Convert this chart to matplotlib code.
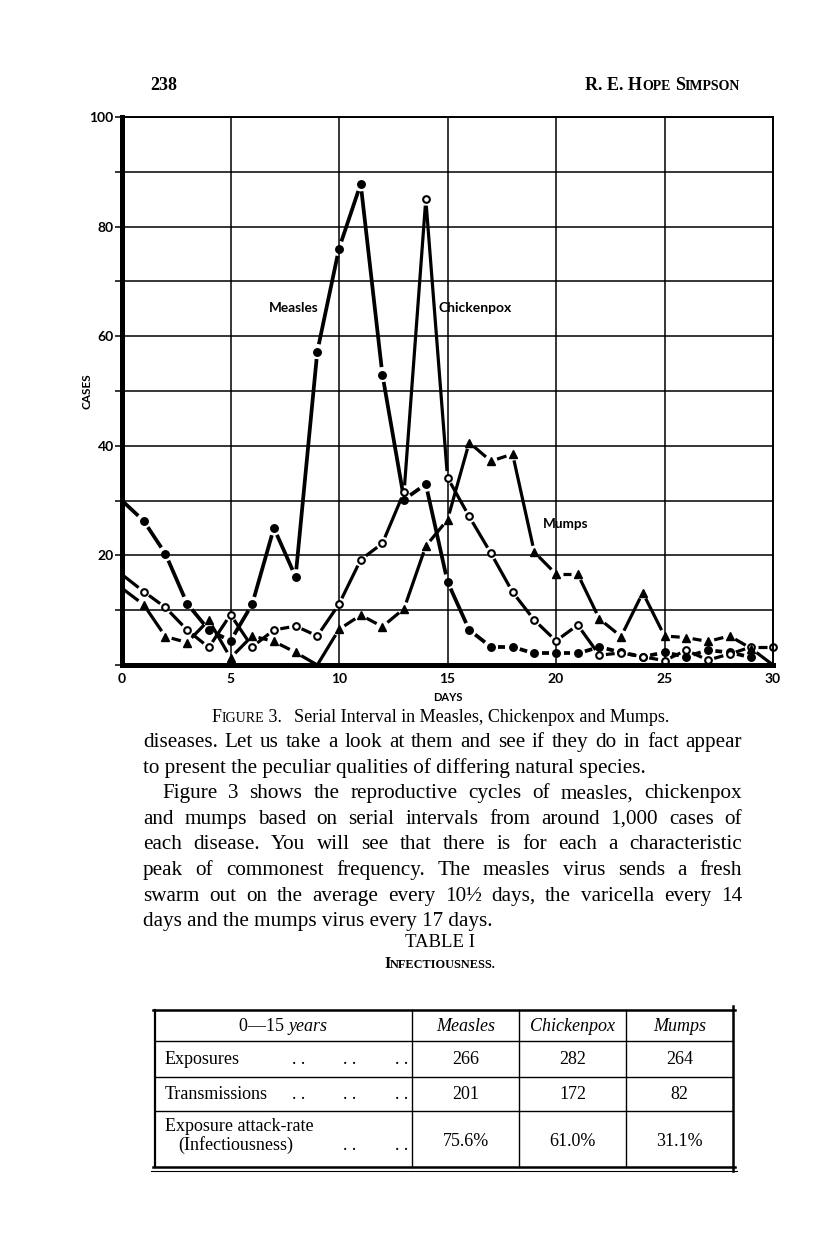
import numpy as np
import matplotlib
matplotlib.use("Agg")
from matplotlib import pyplot as plt

"""Page 238: Figure 3 (serial interval in measles, chickenpox and mumps),
the paragraph below it and Table I (infectiousness)."""

# ---- figure data (cases per day of serial interval) ----
days = list(range(31))
measles = [30, 26.3, 20.3, 11.2, 6.4, 4.4, 11.1, 25.0, 16.1, 57.2, 76.0, 87.8, 53.0, 30.2, 33.0,
           15.2, 6.4, 3.3, 3.3, 2.1, 2.1, 2.1, 3.3, 2.3, 1.5, 2.3, 1.5, 2.7, 2.3, 1.4]
chickenpox = [16.5, 13.4, 10.5, 6.4, 3.2, 9.2, 3.3, 6.4, 7.1, 5.3, 11.1, 19.2, 22.2, 31.6, 85.0,
              34.2, 27.1, 20.4, 13.3, 8.2, 4.4, 7.3, 1.8, 2.2, 1.5, 0.8, 2.7, 0.9, 2.0, 3.3, 3.3]
mumps = [14.0, 11.0, 5.2, 4.1, 8.2, 1.3, 5.3, 4.3, 2.3, 0.0, 6.5, 9.1, 7.0, 10.3, 21.7,
         26.5, 40.6, 37.2, 38.5, 20.6, 16.6, 16.6, 8.4, 5.2, 13.2, 5.3, 5.0, 4.3, 5.3, 3.0, 0.0]

x_ticks = [0, 5, 10, 15, 20, 25, 30]
y_grid = list(range(0, 101, 10))
y_labels = ['', '', '20', '', '40', '', '60', '', '80', '', '100']

# ---- table I ----
table_cols = ["Measles", "Chickenpox", "Mumps"]
exposures = [266, 282, 264]
transmissions = [201, 172, 82]
attack_rate = [75.6, 61.0, 31.1]

body = [
    "diseases. Let us take a look at them and see if they do in fact appear",
    "to present the peculiar qualities of differing natural species.",
    "Figure 3 shows the reproductive cycles of measles, chickenpox",
    "and mumps based on serial intervals from around 1,000 cases of",
    "each disease. You will see that there is for each a characteristic",
    "peak of commonest frequency. The measles virus sends a fresh",
    "swarm out on the average every 10\u00bd days, the varicella every 14",
    "days and the mumps virus every 17 days.",
]
justified = [True, False, True, True, True, True, True, False]

SERIF = "Liberation Serif"
SANS = "Lato"

fig = plt.figure(figsize=(8.16, 12.34), dpi=100)
W, H = 816, 1234

# page axes in pixel units for the printed text and table
pg = fig.add_axes([0, 0, 1, 1])
pg.set_xlim(0, W)
pg.set_ylim(H, 0)
pg.axis('off')
pg.patch.set_visible(False)

ax = fig.add_axes([122 / W, (H - 665) / H, (773 - 122) / W, (665 - 117) / H])
ax.set_xlim(0, 30)
ax.set_ylim(0, 100)
ax.set_xticks(x_ticks)
ax.set_yticks(y_grid)
ax.set_yticklabels(y_labels)
ax.grid(True, color='black', lw=1.1)
ax.set_axisbelow(True)
for s, lw in [('left', 3.6), ('bottom', 3.6), ('top', 1.4), ('right', 1.4)]:
    ax.spines[s].set_linewidth(lw)
ax.tick_params(axis='y', direction='out', length=5, width=1.1, pad=1)
ax.tick_params(axis='x', length=0, pad=6)
for lab in ax.get_xticklabels() + ax.get_yticklabels():
    lab.set_family(SANS)
    lab.set_weight('bold')
    lab.set_fontsize(10)
ax.set_xlabel("DAYS", family=SANS, weight='bold', fontsize=8, labelpad=5)
ax.set_ylabel("CASES", family=SANS, weight='bold', fontsize=8.5, labelpad=-2)


def gapped(x, y, gap, lw):
    # segments from point to point, stopping short of each marker
    pts = ax.transData.transform(np.column_stack([x, y]))
    inv = ax.transData.inverted()
    mark = [d > 0 and v > 0 for d, v in zip(x, y)]
    for i in range(len(pts) - 1):
        p0, p1 = pts[i], pts[i + 1]
        d = p1 - p0
        L = np.hypot(d[0], d[1])
        g0 = gap if mark[i] else 0
        g1 = gap if mark[i + 1] else 0
        if L <= g0 + g1 + 1:
            continue
        u = d / L
        a = inv.transform(p0 + u * g0)
        b = inv.transform(p1 - u * g1)
        ax.plot([a[0], b[0]], [a[1], b[1]], color='black', lw=lw,
                solid_capstyle='butt', clip_on=False)
    return mark


m = gapped(days[:len(measles)], measles, 7.5, 2.7)
xm = [d for d, k in zip(days, m) if k]
ym = [v for v, k in zip(measles, m) if k]
ax.plot(xm, ym, 'o', color='black', ms=5.4, clip_on=False)

m = gapped(days, chickenpox, 6.5, 2.3)
xm = [d for d, k in zip(days, m) if k]
ym = [v for v, k in zip(chickenpox, m) if k]
ax.plot(xm, ym, 'o', mfc='white', mec='black', mew=1.5, ms=4.8, clip_on=False)

m = gapped(days, mumps, 6.5, 2.3)
xm = [d for d, k in zip(days, m) if k]
ym = [v for v, k in zip(mumps, m) if k]
ax.plot(xm, ym, '^', color='black', ms=6, clip_on=False)

ax.text(9.05, 65.2, "Measles", ha='right', va='center', family=SANS, weight='bold', fontsize=9.8)
ax.text(14.6, 65.2, "Chickenpox", ha='left', va='center', family=SANS, weight='bold', fontsize=10)
ax.text(19.4, 25.7, "Mumps", ha='left', va='center', family=SANS, weight='bold', fontsize=9.8)

r = fig.canvas.get_renderer()


def runs(x, y, parts, ha='left', **kw):
    # parts: (text, size, gap after, extra props); small caps are built this way
    objs = [pg.text(0, y, s, fontsize=size, va='baseline', ha='left', family=SERIF, **kw, **ex)
            for s, size, g, ex in parts]
    ws = [o.get_window_extent(r).width for o in objs]
    total = sum(ws) + sum(p[2] for p in parts)
    x0 = x - total / 2 if ha == 'center' else (x - total if ha == 'right' else x)
    for o, w, p in zip(objs, ws, parts):
        o.set_x(x0)
        x0 += w + p[2]


def justify(y, line, x0, x1, size):
    words = line.split(' ')
    objs = [pg.text(0, y, w, fontsize=size, va='baseline', family=SERIF) for w in words]
    ws = [o.get_window_extent(r).width for o in objs]
    gap = (x1 - x0 - sum(ws)) / (len(words) - 1)
    x = x0
    for o, w in zip(objs, ws):
        o.set_x(x)
        x += w + gap


# running head
pg.text(150, 90, "238", fontsize=13, weight='bold', family=SERIF, va='baseline')
runs(740, 90, [("R. E. H", 13, 0, {}), ("OPE", 10, 4, {}), ("S", 13, 0, {}), ("IMPSON", 10, 0, {})],
     ha='right', weight='bold')

# caption
runs(440, 722, [("F", 13, 0, {}), ("IGURE", 10, 0, {}), (" 3.", 13, 12, {}),
                ("Serial Interval in Measles, Chickenpox and Mumps.", 13, 0, {})], ha='center')

# body text
y0, step = 747, 25.6
BS = 15.2
for i, (line, just) in enumerate(zip(body, justified)):
    y = y0 + i * step
    x0 = 162 if line.startswith("Figure") else 143
    if just:
        justify(y, line, x0, 742, BS)
    else:
        pg.text(x0, y, line, fontsize=BS, family=SERIF, va='baseline')

pg.text(440, 947, "TABLE I", fontsize=13.5, family=SERIF, ha='center', va='baseline')
runs(440, 968, [("I", 11.5, 0, {}), ("NFECTIOUSNESS.", 8.8, 0, {})], ha='center', weight='bold')

# table frame
tl, tr, tt, tb = 155, 733, 1010, 1167
pg.plot([tl - 2, tr + 2], [tt, tt], color='black', lw=1.8)
pg.plot([tl - 2, tr + 2], [tb, tb], color='black', lw=1.8)
pg.plot([tl - 4, tr + 4], [tb + 4, tb + 4], color='black', lw=0.8)
pg.plot([tl, tl], [tt, tb], color='black', lw=1.6)
pg.plot([tr, tr], [tt - 4, tb + 4], color='black', lw=1.8)
for yy in [1041, 1077, 1111]:
    pg.plot([tl, tr], [yy, yy], color='black', lw=1.0)
col_edges = [412, 519, 626]
for xx in col_edges:
    pg.plot([xx, xx], [tt, tb], color='black', lw=1.0)
col_mid = [(a + b) / 2 for a, b in zip(col_edges, col_edges[1:] + [tr])]

TS = 13
runs(283, 1031, [("0\u201415 ", TS, 0, {}), ("years", TS, 0, {'style': 'italic'})], ha='center')
for cx, name in zip(col_mid, table_cols):
    pg.text(cx, 1031, name, fontsize=TS, style='italic', family=SERIF, ha='center', va='baseline')

pg.text(165, 1064, "Exposures", fontsize=TS, family=SERIF, va='baseline')
pg.text(165, 1099, "Transmissions", fontsize=TS, family=SERIF, va='baseline')
pg.text(165, 1131, "Exposure attack-rate", fontsize=TS, family=SERIF, va='baseline')
pg.text(178, 1150, "(Infectiousness)", fontsize=TS, family=SERIF, va='baseline')
for yy, xs in [(1064, [299, 350, 402]), (1099, [299, 350, 402]), (1150, [350, 402])]:
    for xx in xs:
        pg.text(xx, yy, ". .", fontsize=TS, family=SERIF, ha='center', va='baseline')

for cx, e, t, a in zip(col_mid, exposures, transmissions, attack_rate):
    pg.text(cx, 1064, str(e), fontsize=TS, family=SERIF, ha='center', va='baseline')
    pg.text(cx, 1099, str(t), fontsize=TS, family=SERIF, ha='center', va='baseline')
    pg.text(cx, 1146, "%.1f%%" % a, fontsize=TS, family=SERIF, ha='center', va='baseline')

fig.savefig("out.png", dpi=100)
